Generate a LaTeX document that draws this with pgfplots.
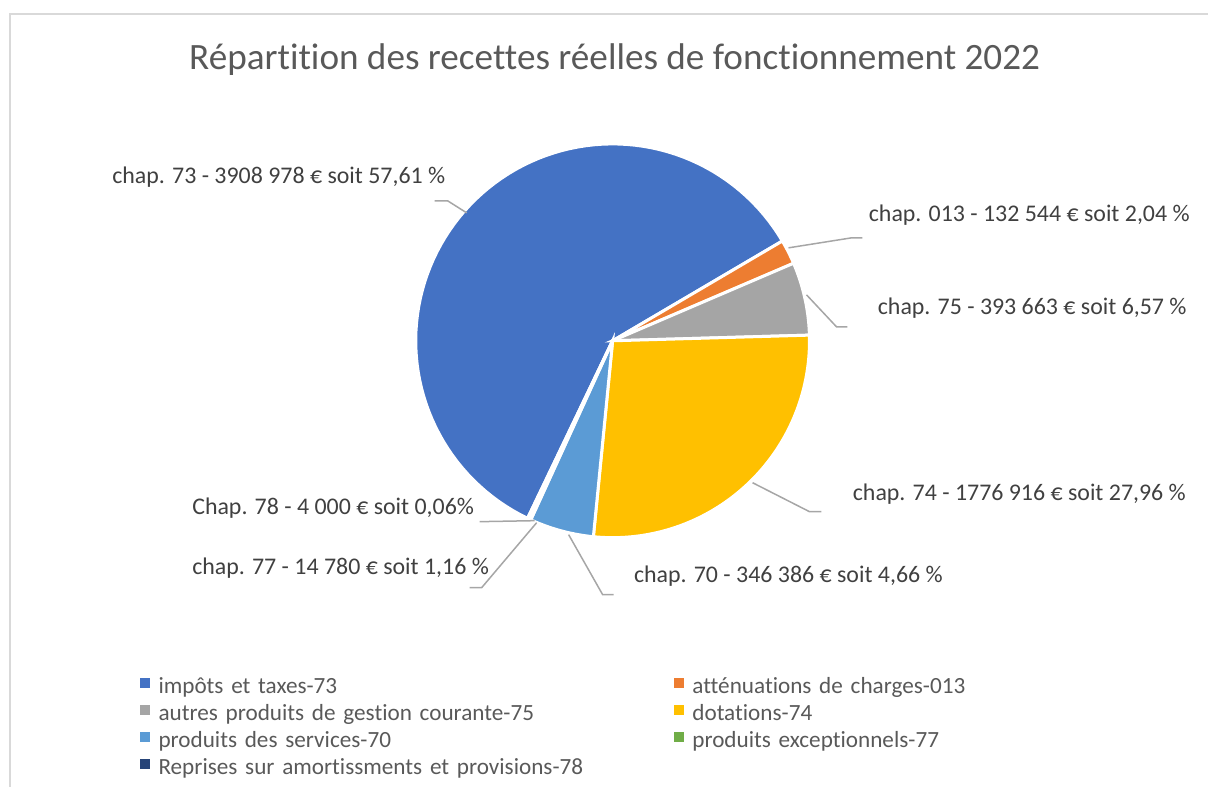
\documentclass[border=0pt]{standalone}
\usepackage{fontspec}
\setmainfont{Carlito}[Ligatures=NoCommon]
\usepackage{pgfplots}
\usepackage{pgfplotstable}
\pgfplotsset{compat=1.18}

\definecolor{c73}{HTML}{4472C4}
\definecolor{c013}{HTML}{ED7D31}
\definecolor{c75}{HTML}{A5A5A5}
\definecolor{c74}{HTML}{FFC000}
\definecolor{c70}{HTML}{5B9BD5}
\definecolor{c77}{HTML}{70AD47}
\definecolor{c78}{HTML}{264478}
\definecolor{titlegray}{HTML}{595959}
\definecolor{labgray}{HTML}{404040}
\definecolor{leader}{HTML}{A6A6A6}
\definecolor{frame}{HTML}{D9D9D9}

% montants en milliers d'euros
\pgfplotstableread{
chap amount
73   3908.978
013  132.544
75   393.663
74   1776.916
70   346.386
77   14.780
78   4.000
}\recettes

% angles des parts (sens horaire, la part 73 finit vers 30 deg)
\def\tot{0}
\pgfplotsforeachungrouped \i in {0,...,6}{%
  \pgfplotstablegetelem{\i}{amount}\of\recettes
  \pgfmathsetmacro\tot{\tot+\pgfplotsretval}}
\def\cur{244.4}
\pgfplotsforeachungrouped \i in {0,...,6}{%
  \pgfplotstablegetelem{\i}{amount}\of\recettes
  \pgfmathsetmacro\nxt{\cur-360*(\pgfplotsretval/\tot)}%
  \expandafter\let\csname st\i\endcsname\cur
  \expandafter\let\csname en\i\endcsname\nxt
  \let\cur\nxt}

\def\cx{613}
\def\cy{341}
\def\R{197}
\newcommand\slice[2]{%
  \addplot[fill=#1, draw=white, line width=1.5pt, forget plot,
    domain=\csname st#2\endcsname:\csname en#2\endcsname, samples=90, variable=\t]
    ({\cx+\R*cos(t)}, {\cy-\R*sin(t)}) -- (axis cs:\cx,\cy) -- cycle;}

\newcommand\labfont{\fontsize{11.95}{13}\selectfont}
\newcommand\legfont{\fontsize{11.6}{13}\selectfont}
\pgfplotsset{legsq/.style={legend image code/.code={%
  \fill[#1] (0pt,0.4pt) rectangle (4.2pt,4.6pt);}}}

\begin{document}
\begin{tikzpicture}
\begin{axis}[
    scale only axis,
    width=604.5pt, height=393.5pt,
    xmin=0, xmax=1209, ymin=0, ymax=787,
    y dir=reverse,
    hide axis, clip=false,
    legend columns=2,
    legend cell align=left,
    legend style={draw=none, fill=none, at={(axis cs:140,677)}, anchor=north west,
      font=\legfont, text=titlegray, inner sep=0pt, row sep=2.5pt,
      /tikz/every odd column/.append style={column sep=4.5pt},
      nodes={inner sep=0pt, text height=8.4pt, text depth=2.6pt, text width=258pt}},
]
\path (axis cs:0,0) rectangle (axis cs:1209,787);
\draw[frame, line width=0.75pt] (axis cs:10,787) -- (axis cs:10,14) -- (axis cs:1209,14);

\slice{c73}{0}
\slice{c013}{1}
\slice{c75}{2}
\slice{c74}{3}
\slice{c70}{4}
\slice{c77}{5}
\slice{c78}{6}

% lignes de rappel
\addplot[leader, line width=0.75pt, forget plot] coordinates {(435,201) (448,201) (467,213)};
\addplot[leader, line width=0.75pt, forget plot] coordinates {(789,248) (852,238) (863,238)};
\addplot[leader, line width=0.75pt, forget plot] coordinates {(807,295) (837,327) (848,327)};
\addplot[leader, line width=0.75pt, forget plot] coordinates {(753,483) (810,512) (822,512)};
\addplot[leader, line width=0.75pt, forget plot] coordinates {(569,535) (603,595) (614,595)};
\addplot[leader, line width=0.75pt, forget plot] coordinates {(480,522) (535,521)};
\addplot[leader, line width=0.75pt, forget plot] coordinates {(537,523) (482,588) (470,588)};

% etiquettes
\begin{scope}[every node/.style={anchor=base west, font=\labfont, text=labgray, inner sep=0pt}]
\node at (axis cs:112,184) {chap. 73 - 3908 978 € soit 57,61 \%};
\node at (axis cs:869,222) {chap. 013 - 132 544 € soit 2,04 \%};
\node at (axis cs:878,315) {chap. 75 - 393 663 € soit 6,57 \%};
\node at (axis cs:853,501) {chap. 74 - 1776 916 € soit 27,96 \%};
\node at (axis cs:634,583) {chap. 70 - 346 386 € soit 4,66 \%};
\node at (axis cs:192,515) {Chap. 78 - 4 000 € soit 0,06\%};
\node at (axis cs:192,575) {chap. 77 - 14 780 € soit 1,16 \%};
\end{scope}

\node[anchor=base, font=\fontsize{18.6}{20}\selectfont, text=titlegray, inner sep=0pt]
  at (axis cs:615,70) {Répartition des recettes réelles de fonctionnement 2022};

\addlegendimage{legsq=c73}  \addlegendentry{impôts et taxes-73}
\addlegendimage{legsq=c013} \addlegendentry{atténuations de charges-013}
\addlegendimage{legsq=c75}  \addlegendentry{autres produits de gestion courante-75}
\addlegendimage{legsq=c74}  \addlegendentry{dotations-74}
\addlegendimage{legsq=c70}  \addlegendentry{produits des services-70}
\addlegendimage{legsq=c77}  \addlegendentry{produits exceptionnels-77}
\addlegendimage{legsq=c78}  \addlegendentry{Reprises sur amortissments et provisions-78}
\end{axis}
\end{tikzpicture}
\end{document}
